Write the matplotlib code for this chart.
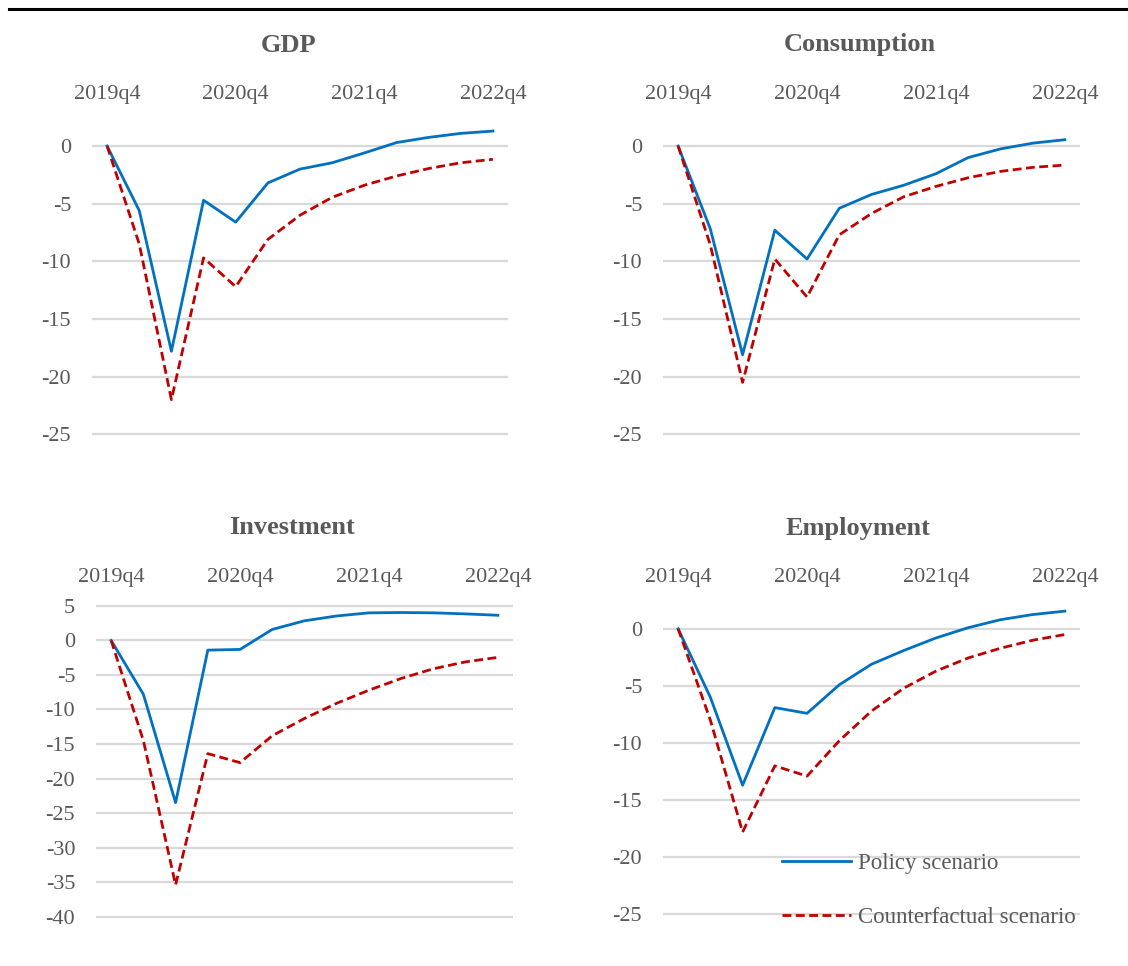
import numpy as np
import matplotlib
matplotlib.use("Agg")
import matplotlib.pyplot as plt
from matplotlib.lines import Line2D

# quarters 2019q4 .. 2022q4
quarters = ["2019q4", "2020q1", "2020q2", "2020q3", "2020q4", "2021q1", "2021q2",
            "2021q3", "2021q4", "2022q1", "2022q2", "2022q3", "2022q4"]
tick_labels = ["2019q4", "2020q4", "2021q4", "2022q4"]

gdp_policy = [0, -5.6, -17.8, -4.7, -6.6, -3.2, -2.0, -1.45, -0.6, 0.3, 0.75, 1.1, 1.3]
gdp_counter = [0, -8.5, -22.0, -9.7, -12.2, -8.1, -6.0, -4.45, -3.4, -2.6, -1.95, -1.45, -1.15]

cons_policy = [0, -7.2, -18.1, -7.3, -9.8, -5.4, -4.2, -3.4, -2.4, -1.0, -0.25, 0.25, 0.55]
cons_counter = [0, -8.6, -20.5, -9.8, -13.1, -7.7, -5.85, -4.4, -3.5, -2.75, -2.2, -1.85, -1.65]

inv_policy = [0, -7.8, -23.5, -1.4, -1.3, 1.6, 2.85, 3.55, 4.0, 4.05, 4.0, 3.85, 3.65]
inv_counter = [0, -14.5, -35.4, -16.4, -17.7, -13.8, -11.3, -9.1, -7.2, -5.5, -4.1, -3.1, -2.45]

emp_policy = [0, -6.0, -13.7, -6.9, -7.4, -4.9, -3.1, -1.9, -0.8, 0.1, 0.8, 1.25, 1.55]
emp_counter = [0, -8.0, -17.8, -12.0, -12.9, -9.8, -7.2, -5.2, -3.7, -2.55, -1.7, -1.0, -0.5]

W, H = 1128, 966
GREY = "#595959"
BLUE = "#0070C0"
RED = "#C00000"

plt.rcParams["font.family"] = ["Liberation Serif", "DejaVu Serif"]
plt.rcParams["axes.unicode_minus"] = False

fig = plt.figure(figsize=(W / 100, H / 100), dpi=100)

# top rule
fig.add_artist(Line2D([9 / W, 1], [1 - 9 / H, 1 - 9 / H], color="black", lw=2.2))


def px_axes(left, right, top, bottom):
    return fig.add_axes([left / W, 1 - bottom / H, (right - left) / W, (bottom - top) / H])


# (title, policy, counter, title x, title y, axes box, ylim, yticks, top pad)
panels = [
    ("GDP", gdp_policy, gdp_counter, 289, 45, (92, 508, 123, 440), (-25.5, 2), range(-25, 1, 5), 14),
    ("Consumption", cons_policy, cons_counter, 860, 45, (663, 1080, 123, 440), (-25.5, 2), range(-25, 1, 5), 14),
    ("Investment", inv_policy, inv_counter, 292, 528, (96, 513, 602.5, 920), (-40.5, 5.5), range(-40, 6, 5), 11),
    ("Employment", emp_policy, emp_counter, 858, 528, (663, 1080, 606, 920), (-25.5, 2), range(-25, 1, 5), 14),
]

x = np.arange(len(quarters))
for title, pol, cnt, tx, ty, box, ylim, yt, tpad in panels:
    ax = px_axes(*box)
    ax.plot(x, pol, color=BLUE, lw=2.0, label="Policy scenario", zorder=3)
    ax.plot(x, cnt, color=RED, lw=2.0, ls=(0, (3.2, 1.6)), label="Counterfactual scenario", zorder=3)
    ax.set_xlim(-0.47, len(quarters) - 1 + 0.47)
    ax.set_ylim(*ylim)
    ax.set_yticks(list(yt))
    ax.yaxis.grid(True, color="#D9D9D9", lw=1.6)
    ax.set_axisbelow(True)
    ax.xaxis.tick_top()
    ax.set_xticks([quarters.index(t) for t in tick_labels])
    ax.set_xticklabels(tick_labels)
    ax.tick_params(axis="x", length=0, pad=tpad, labelsize=16, labelcolor=GREY)
    ax.tick_params(axis="y", length=0, pad=15, labelsize=16, labelcolor=GREY)
    for s in ax.spines.values():
        s.set_visible(False)
    fig.text(tx / W, 1 - ty / H, title, ha="center", va="center",
             fontsize=19, fontweight="bold", color=GREY)
    if title == "Employment":
        leg = ax.legend(loc="upper left", bbox_to_anchor=(782 / W, 1 - 853 / H),
                        bbox_transform=fig.transFigure, frameon=False, fontsize=16.5,
                        borderpad=0, borderaxespad=0, handlelength=3.0,
                        handletextpad=0.3, labelspacing=1.42)
        for t in leg.get_texts():
            t.set_color(GREY)

fig.savefig("out.png", dpi=100)
